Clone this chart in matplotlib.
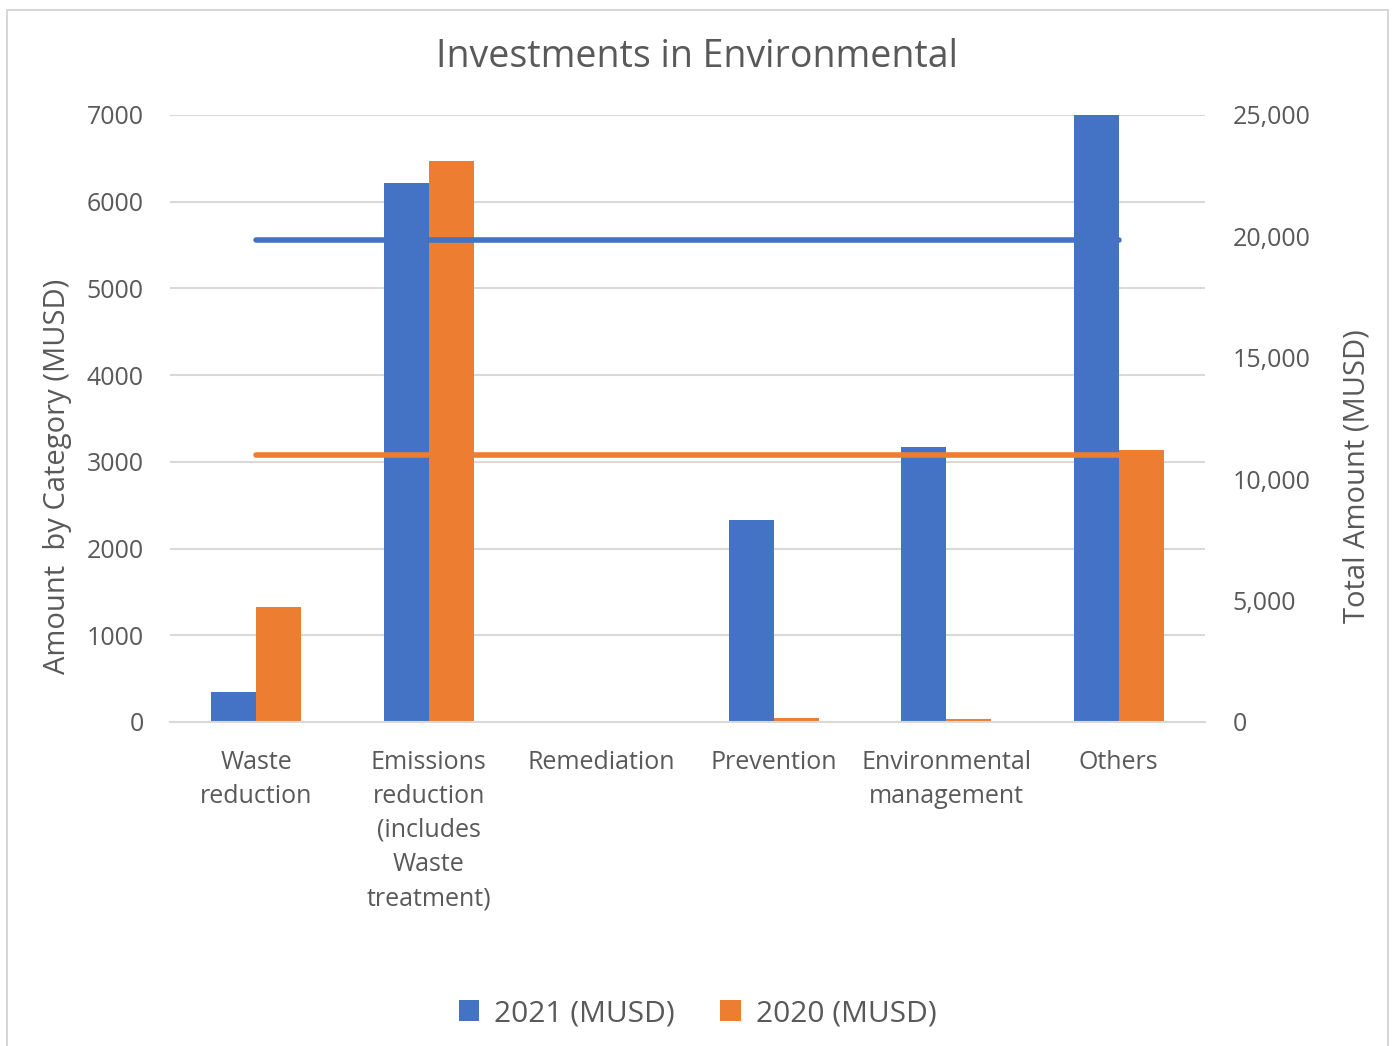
import numpy as np
import matplotlib.pyplot as plt
from matplotlib.patches import Rectangle
from matplotlib.ticker import FuncFormatter

plt.rcParams["font.family"] = ["Open Sans", "DejaVu Sans"]

categories = ["Waste\nreduction",
              "Emissions\nreduction\n(includes\nWaste\ntreatment)",
              "Remediation", "Prevention",
              "Environmental\nmanagement", "Others"]
values_2021 = [350, 6210, 0, 2330, 3170, 7790]
values_2020 = [1330, 6470, 0, 40, 30, 3140]
total_2021 = 19850
total_2020 = 11000

BLUE = "#4472C4"
ORANGE = "#ED7D31"
TXT = "#595959"
GRID = "#D9D9D9"


def main():
    fig = plt.figure(figsize=(13.95, 10.46), dpi=100)
    fig.patches.append(Rectangle((0.005, -0.01), 0.99, 1.0, transform=fig.transFigure,
                                 fill=False, edgecolor="#D0D0D0", linewidth=1.2))

    ax = fig.add_axes([0.1219, 0.3098, 0.7419, 0.5803])
    x = np.arange(len(categories))
    w = 0.26
    ax.bar(x - w / 2, values_2021, w, color=BLUE, label="2021 (MUSD)", zorder=2)
    ax.bar(x + w / 2, values_2020, w, color=ORANGE, label="2020 (MUSD)", zorder=2)
    ax.set_xlim(-0.5, len(categories) - 0.5)
    ax.set_ylim(0, 7000)
    ax.set_yticks(range(0, 7001, 1000))
    ax.grid(axis="y", color=GRID, linewidth=1.5, zorder=0)
    ax.set_axisbelow(True)
    for s in ["top", "right", "left"]:
        ax.spines[s].set_visible(False)
    ax.spines["bottom"].set_color(GRID)
    ax.spines["bottom"].set_linewidth(1.5)
    ax.set_xticks(x)
    ax.set_xticklabels(categories, fontsize=18, color=TXT, linespacing=1.48, va="top")
    ax.tick_params(axis="x", length=0, pad=20)
    ax.tick_params(axis="y", length=0, labelsize=18, labelcolor=TXT, pad=19)
    ax.set_ylabel("Amount  by Category (MUSD)", fontsize=21, color=TXT)
    ax.yaxis.set_label_coords(-0.095, 0.405)

    ax2 = ax.twinx()
    ax2.set_ylim(0, 25000)
    ax2.set_yticks(range(0, 25001, 5000))
    ax2.yaxis.set_major_formatter(FuncFormatter(lambda v, p: f"{int(v):,}"))
    ax2.plot(x, [total_2021] * len(x), color=BLUE, linewidth=4, solid_capstyle="round", zorder=3)
    ax2.plot(x, [total_2020] * len(x), color=ORANGE, linewidth=4, solid_capstyle="round", zorder=3)
    for s in ax2.spines.values():
        s.set_visible(False)
    ax2.tick_params(axis="y", length=0, labelsize=18, labelcolor=TXT, pad=20)
    ax2.set_ylabel("Total Amount (MUSD)", fontsize=21, color=TXT, rotation=90)
    ax2.yaxis.set_label_coords(1.133, 0.405)

    fig.text(0.5, 1 - 57 / 1046, "Investments in Environmental", fontsize=27, color=TXT,
             ha="center", va="center")

    handles, labels = ax.get_legend_handles_labels()
    leg = fig.legend(handles, labels, loc="center", bbox_to_anchor=(0.5, 0.031), ncol=2,
                     frameon=False, fontsize=21.5, handlelength=0.7, handleheight=0.7,
                     handletextpad=0.5, columnspacing=1.5)
    for t in leg.get_texts():
        t.set_color(TXT)

    fig.savefig("out.png", dpi=100)


if __name__ == "__main__":
    main()
